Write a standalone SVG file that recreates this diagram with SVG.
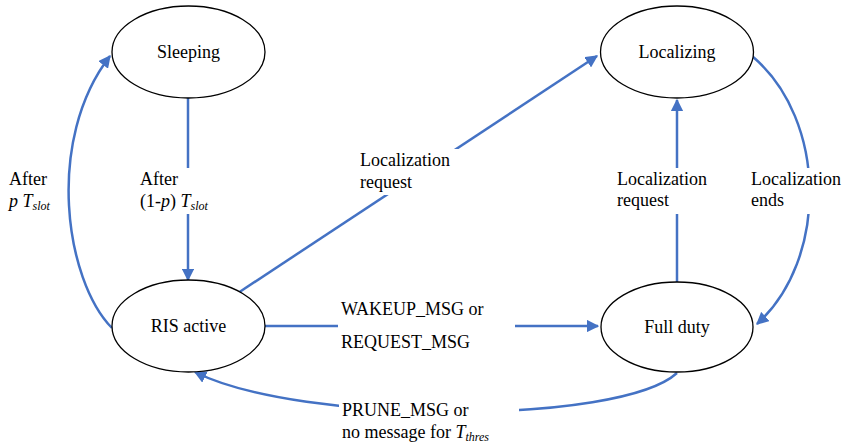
<svg xmlns="http://www.w3.org/2000/svg" width="860" height="446" viewBox="0 0 860 446">
<style>
.node{fill:#fff;stroke:#000;stroke-width:1.3}
.e{fill:none;stroke:#4472C4;stroke-width:2.5}
.bg{fill:#fff}
</style>
<defs>
<marker id="ah" viewBox="0 0 10 10" refX="9" refY="5" markerWidth="5" markerHeight="5" markerUnits="strokeWidth" orient="auto">
<path d="M0,0 L10,5 L0,10 Z" fill="#4472C4"/>
</marker>
</defs>
<rect width="860" height="446" fill="#fff"/>
<g id="connectors">
<path class="e" d="M112,328 C65,280 45,140 110,56" marker-end="url(#ah)"/>
<path class="e" d="M188,98 L188,280" marker-end="url(#ah)"/>
<path class="e" d="M238,293 L597,56" marker-end="url(#ah)"/>
<path class="e" d="M677,282 L677,100" marker-end="url(#ah)"/>
<path class="e" d="M752,56 C828,120 828,260 757,324" marker-end="url(#ah)"/>
<path class="e" d="M265,326 L598,326" marker-end="url(#ah)"/>
<path class="e" d="M677,373 C620,425 300,425 195,372" marker-end="url(#ah)"/>
</g>
<g id="labels">
<rect class="bg" x="6" y="168" width="58" height="46"/>
<text x="9" y="185" font-family="Liberation Serif" font-size="18">After</text>
<text x="9" y="207" font-family="Liberation Serif" font-size="18"><tspan font-style="italic">p</tspan>  <tspan font-style="italic">T</tspan><tspan font-style="italic" font-size="12" dy="3">slot</tspan></text>
<rect class="bg" x="137" y="168" width="92" height="46"/>
<text x="140" y="185" font-family="Liberation Serif" font-size="18">After</text>
<text x="140" y="207" font-family="Liberation Serif" font-size="18">(1-<tspan font-style="italic">p</tspan>)  <tspan font-style="italic">T</tspan><tspan font-style="italic" font-size="12" dy="3">slot</tspan></text>
<rect class="bg" x="357" y="149" width="112" height="46"/>
<text x="360" y="166" font-family="Liberation Serif" font-size="18">Localization</text>
<text x="360" y="188" font-family="Liberation Serif" font-size="18">request</text>
<rect class="bg" x="614" y="168" width="112" height="46"/>
<text x="617" y="185" font-family="Liberation Serif" font-size="18">Localization</text>
<text x="617" y="206" font-family="Liberation Serif" font-size="18">request</text>
<rect class="bg" x="748" y="168" width="112" height="46"/>
<text x="751" y="185" font-family="Liberation Serif" font-size="18">Localization</text>
<text x="751" y="206" font-family="Liberation Serif" font-size="18">ends</text>
<rect class="bg" x="338" y="295" width="177" height="60"/>
<text x="341" y="315" font-family="Liberation Serif" font-size="18">WAKEUP_MSG or</text>
<text x="341" y="348" font-family="Liberation Serif" font-size="18">REQUEST_MSG</text>
<rect class="bg" x="339" y="400" width="180" height="46"/>
<text x="342" y="416" font-family="Liberation Serif" font-size="18">PRUNE_MSG or</text>
<text x="342" y="438" font-family="Liberation Serif" font-size="18">no message for <tspan font-style="italic">T</tspan><tspan font-style="italic" font-size="12" dy="3">thres</tspan></text>
</g>
<g id="sleeping">
<ellipse class="node" cx="188.5" cy="52" rx="76.5" ry="46"/>
<text x="188.5" y="58" text-anchor="middle" font-family="Liberation Serif" font-size="18">Sleeping</text>
</g>
<g id="localizing">
<ellipse class="node" cx="677" cy="52" rx="76.5" ry="46"/>
<text x="677" y="58" text-anchor="middle" font-family="Liberation Serif" font-size="18">Localizing</text>
</g>
<g id="ris-active">
<ellipse class="node" cx="188.5" cy="326" rx="76.5" ry="46"/>
<text x="188.5" y="332" text-anchor="middle" font-family="Liberation Serif" font-size="18">RIS active</text>
</g>
<g id="full-duty">
<ellipse class="node" cx="677" cy="327" rx="76" ry="45"/>
<text x="677" y="333" text-anchor="middle" font-family="Liberation Serif" font-size="18">Full duty</text>
</g>
</svg>
